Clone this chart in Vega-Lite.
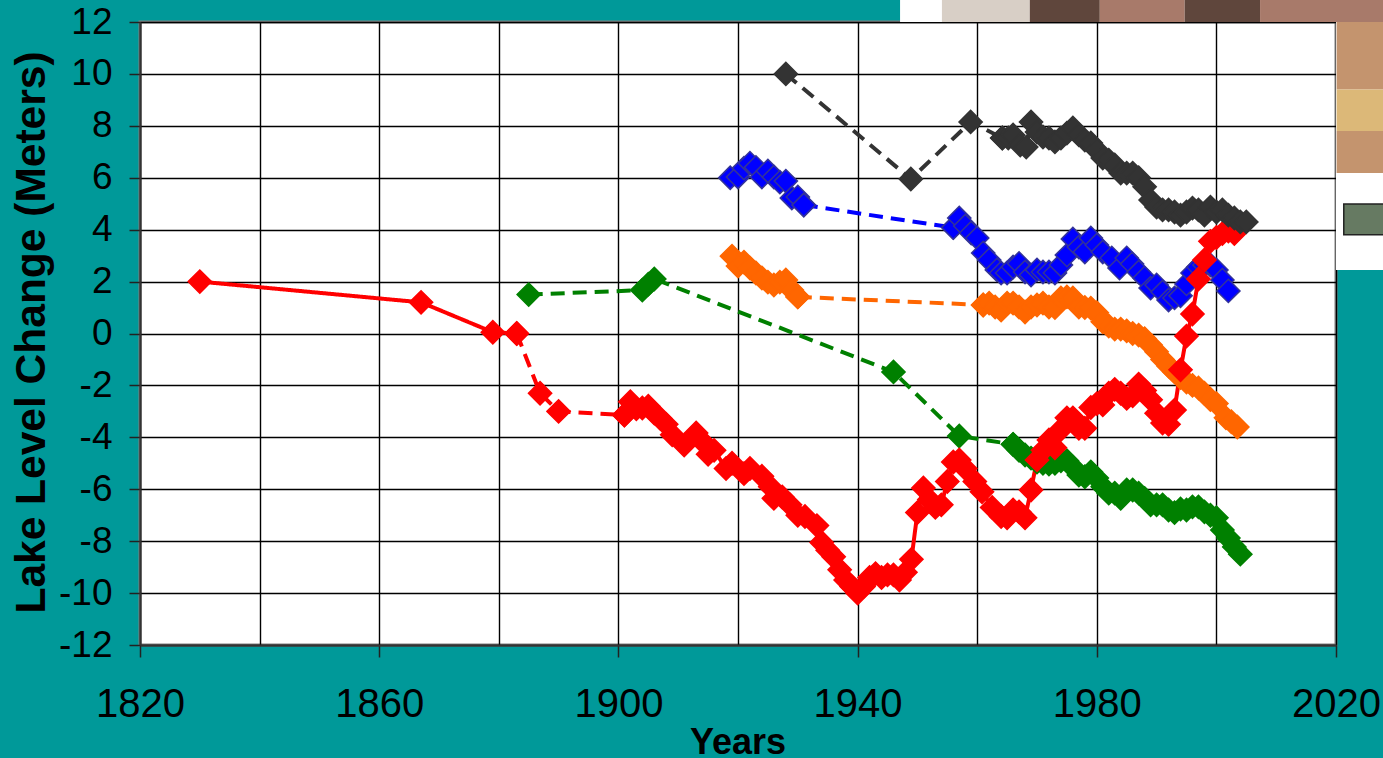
{"$schema":"https://vega.github.io/schema/vega-lite/v6.json","autosize":{"type":"none"},"width":1196,"height":623,"padding":{"left":140,"top":22,"right":47,"bottom":113},"background":"#009999","view":{"fill":"#ffffff","stroke":"#808080","strokeWidth":3},"config":{"font":"Liberation Sans"},"datasets":{"patches":[
{"part":"white","x0":1947.1,"x1":2020,"y0":12,"y1":12.9},
{"part":"white","x0":2020,"x1":2028,"y0":2.45,"y1":12.9},
{"part":"pale","x0":1954.1,"x1":1968.8,"y0":12,"y1":12.9},
{"part":"dark","x0":1968.8,"x1":1980.5,"y0":12,"y1":12.9},
{"part":"rose","x0":1980.5,"x1":1994.7,"y0":12,"y1":12.9},
{"part":"dark","x0":1994.7,"x1":2007.3,"y0":12,"y1":12.9},
{"part":"rose","x0":2007.3,"x1":2028,"y0":12,"y1":12.9},
{"part":"tan","x0":2020.1,"x1":2028,"y0":9.4,"y1":12},
{"part":"sand","x0":2020.1,"x1":2028,"y0":7.8,"y1":9.4},
{"part":"tan","x0":2020.1,"x1":2028,"y0":6.18,"y1":7.8},
{"part":"box","x0":2021.3,"x1":2028.5,"y0":3.8,"y1":4.99}
],"lake":[
{"series":"blue","run":"b1","style":"solid","year":1918.7,"level":6.0},
{"series":"blue","run":"b1","style":"solid","year":1920,"level":6.03},
{"series":"blue","run":"b1","style":"solid","year":1921,"level":6.37},
{"series":"blue","run":"b1","style":"solid","year":1922,"level":6.56},
{"series":"blue","run":"b1","style":"solid","year":1923,"level":6.4},
{"series":"blue","run":"b1","style":"solid","year":1924,"level":6.03},
{"series":"blue","run":"b1","style":"solid","year":1925,"level":6.26},
{"series":"blue","run":"b1","style":"solid","year":1926,"level":6.03},
{"series":"blue","run":"b1","style":"solid","year":1927,"level":5.83},
{"series":"blue","run":"b1","style":"solid","year":1928,"level":5.87},
{"series":"blue","run":"b1","style":"solid","year":1929,"level":5.22},
{"series":"blue","run":"b1","style":"solid","year":1930,"level":5.26},
{"series":"blue","run":"b1","style":"solid","year":1931,"level":4.95},
{"series":"blue","run":"b2","style":"dashed","year":1931,"level":4.95},
{"series":"blue","run":"b2","style":"dashed","year":1956,"level":4.08},
{"series":"blue","run":"b3","style":"solid","year":1956,"level":4.08},
{"series":"blue","run":"b3","style":"solid","year":1957,"level":4.45},
{"series":"blue","run":"b3","style":"solid","year":1958,"level":4.14},
{"series":"blue","run":"b3","style":"solid","year":1959,"level":3.87},
{"series":"blue","run":"b3","style":"solid","year":1960,"level":3.68},
{"series":"blue","run":"b3","style":"solid","year":1961,"level":3.1},
{"series":"blue","run":"b3","style":"solid","year":1962,"level":2.83},
{"series":"blue","run":"b3","style":"solid","year":1963.3,"level":2.45},
{"series":"blue","run":"b3","style":"solid","year":1964,"level":2.33},
{"series":"blue","run":"b3","style":"solid","year":1965,"level":2.33},
{"series":"blue","run":"b3","style":"solid","year":1966,"level":2.56},
{"series":"blue","run":"b3","style":"solid","year":1967,"level":2.7},
{"series":"blue","run":"b3","style":"solid","year":1968,"level":2.37},
{"series":"blue","run":"b3","style":"solid","year":1969,"level":2.25},
{"series":"blue","run":"b3","style":"solid","year":1970,"level":2.45},
{"series":"blue","run":"b3","style":"solid","year":1971,"level":2.37},
{"series":"blue","run":"b3","style":"solid","year":1972,"level":2.37},
{"series":"blue","run":"b3","style":"solid","year":1973,"level":2.33},
{"series":"blue","run":"b3","style":"solid","year":1974,"level":2.64},
{"series":"blue","run":"b3","style":"solid","year":1975,"level":3.02},
{"series":"blue","run":"b3","style":"solid","year":1976,"level":3.64},
{"series":"blue","run":"b3","style":"solid","year":1977,"level":3.33},
{"series":"blue","run":"b3","style":"solid","year":1978,"level":3.14},
{"series":"blue","run":"b3","style":"solid","year":1979,"level":3.68},
{"series":"blue","run":"b3","style":"solid","year":1980,"level":3.41},
{"series":"blue","run":"b3","style":"solid","year":1981,"level":3.14},
{"series":"blue","run":"b3","style":"solid","year":1982.5,"level":2.91},
{"series":"blue","run":"b3","style":"solid","year":1983.8,"level":2.52},
{"series":"blue","run":"b3","style":"solid","year":1985,"level":2.91},
{"series":"blue","run":"b3","style":"solid","year":1985.9,"level":2.68},
{"series":"blue","run":"b3","style":"solid","year":1987,"level":2.37},
{"series":"blue","run":"b3","style":"solid","year":1988,"level":2.14},
{"series":"blue","run":"b3","style":"solid","year":1989,"level":1.75},
{"series":"blue","run":"b3","style":"solid","year":1990,"level":1.87},
{"series":"blue","run":"b3","style":"solid","year":1991,"level":1.6},
{"series":"blue","run":"b3","style":"solid","year":1992,"level":1.29},
{"series":"blue","run":"b3","style":"solid","year":1993,"level":1.37},
{"series":"blue","run":"b3","style":"solid","year":1994,"level":1.45},
{"series":"blue","run":"b3","style":"solid","year":1995,"level":1.91},
{"series":"blue","run":"b3","style":"solid","year":1996,"level":2.33},
{"series":"blue","run":"b3","style":"solid","year":1997,"level":2.56},
{"series":"blue","run":"b3","style":"solid","year":1998,"level":2.64},
{"series":"blue","run":"b3","style":"solid","year":1999,"level":2.64},
{"series":"blue","run":"b3","style":"solid","year":2000,"level":2.45},
{"series":"blue","run":"b3","style":"solid","year":2001,"level":2.06},
{"series":"blue","run":"b3","style":"solid","year":2002,"level":1.64},
{"series":"orange","run":"o1","style":"solid","year":1919,"level":2.98},
{"series":"orange","run":"o1","style":"solid","year":1920,"level":2.6},
{"series":"orange","run":"o1","style":"solid","year":1921,"level":2.75},
{"series":"orange","run":"o1","style":"solid","year":1922,"level":2.52},
{"series":"orange","run":"o1","style":"solid","year":1923,"level":2.33},
{"series":"orange","run":"o1","style":"solid","year":1924,"level":2.14},
{"series":"orange","run":"o1","style":"solid","year":1925,"level":1.98},
{"series":"orange","run":"o1","style":"solid","year":1926,"level":1.87},
{"series":"orange","run":"o1","style":"solid","year":1927,"level":1.98},
{"series":"orange","run":"o1","style":"solid","year":1928,"level":2.06},
{"series":"orange","run":"o1","style":"solid","year":1929,"level":1.68},
{"series":"orange","run":"o1","style":"solid","year":1930,"level":1.41},
{"series":"orange","run":"o2","style":"dashed","year":1930,"level":1.41},
{"series":"orange","run":"o2","style":"dashed","year":1961,"level":1.1},
{"series":"orange","run":"o3","style":"solid","year":1961,"level":1.1},
{"series":"orange","run":"o3","style":"solid","year":1962,"level":1.17},
{"series":"orange","run":"o3","style":"solid","year":1963,"level":1.02},
{"series":"orange","run":"o3","style":"solid","year":1964,"level":0.9},
{"series":"orange","run":"o3","style":"solid","year":1965,"level":1.17},
{"series":"orange","run":"o3","style":"solid","year":1966,"level":1.17},
{"series":"orange","run":"o3","style":"solid","year":1967,"level":1.02},
{"series":"orange","run":"o3","style":"solid","year":1968,"level":0.83},
{"series":"orange","run":"o3","style":"solid","year":1969,"level":1.02},
{"series":"orange","run":"o3","style":"solid","year":1970,"level":1.1},
{"series":"orange","run":"o3","style":"solid","year":1971,"level":1.17},
{"series":"orange","run":"o3","style":"solid","year":1972,"level":1.02},
{"series":"orange","run":"o3","style":"solid","year":1973,"level":1.0},
{"series":"orange","run":"o3","style":"solid","year":1974,"level":1.37},
{"series":"orange","run":"o3","style":"solid","year":1975,"level":1.41},
{"series":"orange","run":"o3","style":"solid","year":1976,"level":1.37},
{"series":"orange","run":"o3","style":"solid","year":1977,"level":1.02},
{"series":"orange","run":"o3","style":"solid","year":1978,"level":1.0},
{"series":"orange","run":"o3","style":"solid","year":1979,"level":0.98},
{"series":"orange","run":"o3","style":"solid","year":1980,"level":0.8},
{"series":"orange","run":"o3","style":"solid","year":1981,"level":0.45},
{"series":"orange","run":"o3","style":"solid","year":1982,"level":0.29},
{"series":"orange","run":"o3","style":"solid","year":1983,"level":0.17},
{"series":"orange","run":"o3","style":"solid","year":1984,"level":0.17},
{"series":"orange","run":"o3","style":"solid","year":1985,"level":0.1},
{"series":"orange","run":"o3","style":"solid","year":1986,"level":0.0},
{"series":"orange","run":"o3","style":"solid","year":1987,"level":-0.06},
{"series":"orange","run":"o3","style":"solid","year":1988,"level":-0.2},
{"series":"orange","run":"o3","style":"solid","year":1989,"level":-0.44},
{"series":"orange","run":"o3","style":"solid","year":1990,"level":-0.7},
{"series":"orange","run":"o3","style":"solid","year":1991,"level":-1.0},
{"series":"orange","run":"o3","style":"solid","year":1992,"level":-1.25},
{"series":"orange","run":"o3","style":"solid","year":1993,"level":-1.48},
{"series":"orange","run":"o3","style":"solid","year":1994,"level":-1.7},
{"series":"orange","run":"o3","style":"solid","year":1995,"level":-1.87},
{"series":"orange","run":"o3","style":"solid","year":1996,"level":-2.0},
{"series":"orange","run":"o3","style":"solid","year":1997,"level":-2.1},
{"series":"orange","run":"o3","style":"solid","year":1998,"level":-2.3},
{"series":"orange","run":"o3","style":"solid","year":1999,"level":-2.55},
{"series":"orange","run":"o3","style":"solid","year":2000,"level":-2.7},
{"series":"orange","run":"o4","style":"solid","year":2001.6,"level":-3.25},
{"series":"orange","run":"o4","style":"solid","year":2002.5,"level":-3.4},
{"series":"orange","run":"o4","style":"solid","year":2003.5,"level":-3.6},
{"series":"green","run":"g1","style":"dashed","year":1885,"level":1.5},
{"series":"green","run":"g1","style":"dashed","year":1904,"level":1.67},
{"series":"green","run":"g1","style":"dashed","year":1905,"level":1.9},
{"series":"green","run":"g1","style":"dashed","year":1906,"level":2.1},
{"series":"green","run":"g1","style":"dashed","year":1946,"level":-1.48},
{"series":"green","run":"g1","style":"dashed","year":1957,"level":-3.95},
{"series":"green","run":"g1","style":"dashed","year":1966,"level":-4.27},
{"series":"green","run":"g2","style":"solid","year":1966,"level":-4.27},
{"series":"green","run":"g2","style":"solid","year":1967,"level":-4.5},
{"series":"green","run":"g2","style":"solid","year":1968,"level":-4.68},
{"series":"green","run":"g2","style":"solid","year":1969,"level":-4.8},
{"series":"green","run":"g2","style":"solid","year":1970,"level":-4.95},
{"series":"green","run":"g2","style":"solid","year":1971,"level":-5.0},
{"series":"green","run":"g2","style":"solid","year":1972,"level":-5.03},
{"series":"green","run":"g2","style":"solid","year":1973,"level":-5.0},
{"series":"green","run":"g2","style":"solid","year":1974,"level":-4.9},
{"series":"green","run":"g2","style":"solid","year":1975,"level":-4.9},
{"series":"green","run":"g2","style":"solid","year":1976,"level":-5.15},
{"series":"green","run":"g2","style":"solid","year":1977,"level":-5.45},
{"series":"green","run":"g2","style":"solid","year":1978,"level":-5.52},
{"series":"green","run":"g2","style":"solid","year":1979,"level":-5.33},
{"series":"green","run":"g2","style":"solid","year":1980,"level":-5.57},
{"series":"green","run":"g2","style":"solid","year":1981,"level":-5.9},
{"series":"green","run":"g2","style":"solid","year":1982,"level":-6.15},
{"series":"green","run":"g2","style":"solid","year":1983,"level":-6.15},
{"series":"green","run":"g2","style":"solid","year":1984,"level":-6.35},
{"series":"green","run":"g2","style":"solid","year":1985,"level":-6.03},
{"series":"green","run":"g2","style":"solid","year":1986,"level":-6.03},
{"series":"green","run":"g2","style":"solid","year":1987,"level":-6.15},
{"series":"green","run":"g2","style":"solid","year":1988,"level":-6.35},
{"series":"green","run":"g2","style":"solid","year":1989,"level":-6.6},
{"series":"green","run":"g2","style":"solid","year":1990,"level":-6.6},
{"series":"green","run":"g2","style":"solid","year":1991,"level":-6.6},
{"series":"green","run":"g2","style":"solid","year":1992,"level":-6.8},
{"series":"green","run":"g2","style":"solid","year":1993,"level":-6.9},
{"series":"green","run":"g2","style":"solid","year":1994,"level":-6.76},
{"series":"green","run":"g2","style":"solid","year":1995,"level":-6.8},
{"series":"green","run":"g2","style":"solid","year":1996,"level":-6.68},
{"series":"green","run":"g2","style":"solid","year":1997,"level":-6.68},
{"series":"green","run":"g2","style":"solid","year":1998,"level":-6.87},
{"series":"green","run":"g2","style":"solid","year":1999,"level":-7.0},
{"series":"green","run":"g2","style":"solid","year":2000,"level":-7.1},
{"series":"green","run":"g2","style":"solid","year":2001,"level":-7.57},
{"series":"green","run":"g2","style":"solid","year":2002,"level":-7.88},
{"series":"green","run":"g2","style":"solid","year":2003,"level":-8.22},
{"series":"green","run":"g2","style":"solid","year":2004,"level":-8.5},
{"series":"red","run":"r1","style":"solid","year":1830,"level":2.0},
{"series":"red","run":"r1","style":"solid","year":1867,"level":1.2},
{"series":"red","run":"r1","style":"solid","year":1879,"level":0.05},
{"series":"red","run":"r1","style":"solid","year":1883,"level":0.0},
{"series":"red","run":"r2","style":"dashed","year":1883,"level":0.0},
{"series":"red","run":"r2","style":"dashed","year":1886.9,"level":-2.3},
{"series":"red","run":"r2","style":"dashed","year":1890,"level":-3.0},
{"series":"red","run":"r2","style":"dashed","year":1901,"level":-3.14},
{"series":"red","run":"r3","style":"solid","year":1901,"level":-3.14},
{"series":"red","run":"r3","style":"solid","year":1902,"level":-2.63},
{"series":"red","run":"r3","style":"solid","year":1903,"level":-2.9},
{"series":"red","run":"r3","style":"solid","year":1904,"level":-2.87},
{"series":"red","run":"r3","style":"solid","year":1905,"level":-2.8},
{"series":"red","run":"r3","style":"solid","year":1906,"level":-3.07},
{"series":"red","run":"r3","style":"solid","year":1907,"level":-3.27},
{"series":"red","run":"r3","style":"solid","year":1908,"level":-3.5},
{"series":"red","run":"r3","style":"solid","year":1909,"level":-3.9},
{"series":"red","run":"r3","style":"solid","year":1911,"level":-4.3},
{"series":"red","run":"r3","style":"solid","year":1913,"level":-3.83},
{"series":"red","run":"r3","style":"solid","year":1914,"level":-4.15},
{"series":"red","run":"r3","style":"solid","year":1915,"level":-4.65},
{"series":"red","run":"r3","style":"solid","year":1916,"level":-4.5},
{"series":"red","run":"r3","style":"solid","year":1918,"level":-5.2},
{"series":"red","run":"r3","style":"solid","year":1919,"level":-5.0},
{"series":"red","run":"r3","style":"solid","year":1921,"level":-5.4},
{"series":"red","run":"r3","style":"solid","year":1922,"level":-5.2},
{"series":"red","run":"r3","style":"solid","year":1924,"level":-5.5},
{"series":"red","run":"r3","style":"solid","year":1925.4,"level":-5.9},
{"series":"red","run":"r3","style":"solid","year":1926,"level":-6.35},
{"series":"red","run":"r3","style":"solid","year":1927.4,"level":-6.3},
{"series":"red","run":"r3","style":"solid","year":1928.7,"level":-6.6},
{"series":"red","run":"r3","style":"solid","year":1930,"level":-7.0},
{"series":"red","run":"r3","style":"solid","year":1931.2,"level":-7.05},
{"series":"red","run":"r3","style":"solid","year":1933.2,"level":-7.4},
{"series":"red","run":"r3","style":"solid","year":1934,"level":-8.05},
{"series":"red","run":"r3","style":"solid","year":1935,"level":-8.35},
{"series":"red","run":"r3","style":"solid","year":1936,"level":-8.6},
{"series":"red","run":"r3","style":"solid","year":1937,"level":-9.1},
{"series":"red","run":"r3","style":"solid","year":1938,"level":-9.5},
{"series":"red","run":"r3","style":"solid","year":1939,"level":-9.75},
{"series":"red","run":"r3","style":"solid","year":1940,"level":-10.0},
{"series":"red","run":"r3","style":"solid","year":1941,"level":-9.75},
{"series":"red","run":"r3","style":"solid","year":1942,"level":-9.4},
{"series":"red","run":"r3","style":"solid","year":1943,"level":-9.25},
{"series":"red","run":"r3","style":"solid","year":1944,"level":-9.4},
{"series":"red","run":"r3","style":"solid","year":1945,"level":-9.3},
{"series":"red","run":"r3","style":"solid","year":1946,"level":-9.3},
{"series":"red","run":"r3","style":"solid","year":1947,"level":-9.5},
{"series":"red","run":"r3","style":"solid","year":1948,"level":-9.2},
{"series":"red","run":"r3","style":"solid","year":1949,"level":-8.7},
{"series":"red","run":"r3","style":"solid","year":1950,"level":-6.9},
{"series":"red","run":"r3","style":"solid","year":1951,"level":-5.95},
{"series":"red","run":"r3","style":"solid","year":1952,"level":-6.4},
{"series":"red","run":"r3","style":"solid","year":1953,"level":-6.7},
{"series":"red","run":"r3","style":"solid","year":1954,"level":-6.6},
{"series":"red","run":"r3","style":"solid","year":1955,"level":-5.7},
{"series":"red","run":"r3","style":"solid","year":1956,"level":-4.95},
{"series":"red","run":"r3","style":"solid","year":1957,"level":-4.87},
{"series":"red","run":"r3","style":"solid","year":1958,"level":-5.2},
{"series":"red","run":"r3","style":"solid","year":1959.6,"level":-5.7},
{"series":"red","run":"r3","style":"solid","year":1960.8,"level":-6.1},
{"series":"red","run":"r3","style":"solid","year":1962.5,"level":-6.7},
{"series":"red","run":"r3","style":"solid","year":1964,"level":-7.05},
{"series":"red","run":"r3","style":"solid","year":1965,"level":-7.1},
{"series":"red","run":"r3","style":"solid","year":1966,"level":-6.8},
{"series":"red","run":"r3","style":"solid","year":1967,"level":-6.87},
{"series":"red","run":"r3","style":"solid","year":1968,"level":-7.1},
{"series":"red","run":"r3","style":"solid","year":1969,"level":-6.03},
{"series":"red","run":"r3","style":"solid","year":1970,"level":-4.87},
{"series":"red","run":"r3","style":"solid","year":1971,"level":-4.5},
{"series":"red","run":"r3","style":"solid","year":1972,"level":-4.1},
{"series":"red","run":"r3","style":"solid","year":1973,"level":-4.4},
{"series":"red","run":"r3","style":"solid","year":1974,"level":-3.7},
{"series":"red","run":"r3","style":"solid","year":1975,"level":-3.25},
{"series":"red","run":"r3","style":"solid","year":1976,"level":-3.25},
{"series":"red","run":"r3","style":"solid","year":1977,"level":-3.65},
{"series":"red","run":"r3","style":"solid","year":1978,"level":-3.65},
{"series":"red","run":"r3","style":"solid","year":1979,"level":-2.85},
{"series":"red","run":"r3","style":"solid","year":1980,"level":-2.7},
{"series":"red","run":"r3","style":"solid","year":1981,"level":-2.75},
{"series":"red","run":"r3","style":"solid","year":1982,"level":-2.3},
{"series":"red","run":"r3","style":"solid","year":1983,"level":-2.15},
{"series":"red","run":"r3","style":"solid","year":1984,"level":-2.3},
{"series":"red","run":"r3","style":"solid","year":1985,"level":-2.5},
{"series":"red","run":"r3","style":"solid","year":1986,"level":-2.4},
{"series":"red","run":"r3","style":"solid","year":1987,"level":-1.95},
{"series":"red","run":"r3","style":"solid","year":1988,"level":-2.2},
{"series":"red","run":"r3","style":"solid","year":1989,"level":-2.55},
{"series":"red","run":"r3","style":"solid","year":1990,"level":-3.07},
{"series":"red","run":"r3","style":"solid","year":1991,"level":-3.45},
{"series":"red","run":"r3","style":"solid","year":1992,"level":-3.5},
{"series":"red","run":"r3","style":"solid","year":1993,"level":-2.95},
{"series":"red","run":"r3","style":"solid","year":1994,"level":-1.4},
{"series":"red","run":"r3","style":"solid","year":1995,"level":-0.1},
{"series":"red","run":"r3","style":"solid","year":1996,"level":0.75},
{"series":"red","run":"r3","style":"solid","year":1997,"level":2.1},
{"series":"red","run":"r3","style":"solid","year":1998,"level":2.83},
{"series":"red","run":"r3","style":"solid","year":1999,"level":3.55},
{"series":"red","run":"r3","style":"solid","year":2000,"level":3.7},
{"series":"red","run":"r3","style":"solid","year":2001,"level":3.85},
{"series":"red","run":"r3","style":"solid","year":2002,"level":3.95},
{"series":"red","run":"r3","style":"solid","year":2003,"level":3.85},
{"series":"black","run":"k1","style":"dashed","year":1928,"level":10.0},
{"series":"black","run":"k1","style":"dashed","year":1948.9,"level":5.95},
{"series":"black","run":"k1","style":"dashed","year":1958.9,"level":8.15},
{"series":"black","run":"k1","style":"dashed","year":1964.2,"level":7.53},
{"series":"black","run":"k2","style":"solid","year":1964.2,"level":7.53},
{"series":"black","run":"k2","style":"solid","year":1965.2,"level":7.53},
{"series":"black","run":"k2","style":"solid","year":1966,"level":7.65},
{"series":"black","run":"k2","style":"solid","year":1967.2,"level":7.26},
{"series":"black","run":"k2","style":"solid","year":1968.2,"level":7.18},
{"series":"black","run":"k2","style":"solid","year":1969,"level":8.15},
{"series":"black","run":"k2","style":"solid","year":1970,"level":7.76},
{"series":"black","run":"k2","style":"solid","year":1971,"level":7.57},
{"series":"black","run":"k2","style":"solid","year":1972,"level":7.53},
{"series":"black","run":"k2","style":"solid","year":1973,"level":7.38},
{"series":"black","run":"k2","style":"solid","year":1974,"level":7.53},
{"series":"black","run":"k2","style":"solid","year":1975,"level":7.72},
{"series":"black","run":"k2","style":"solid","year":1976,"level":7.92},
{"series":"black","run":"k2","style":"solid","year":1977,"level":7.65},
{"series":"black","run":"k2","style":"solid","year":1978,"level":7.45},
{"series":"black","run":"k2","style":"solid","year":1979,"level":7.34},
{"series":"black","run":"k2","style":"solid","year":1980,"level":7.07},
{"series":"black","run":"k2","style":"solid","year":1981,"level":6.76},
{"series":"black","run":"k2","style":"solid","year":1982,"level":6.68},
{"series":"black","run":"k2","style":"solid","year":1983,"level":6.49},
{"series":"black","run":"k2","style":"solid","year":1984,"level":6.18},
{"series":"black","run":"k2","style":"solid","year":1985,"level":6.18},
{"series":"black","run":"k2","style":"solid","year":1986,"level":6.18},
{"series":"black","run":"k2","style":"solid","year":1987,"level":6.0},
{"series":"black","run":"k2","style":"solid","year":1988,"level":5.65},
{"series":"black","run":"k2","style":"solid","year":1989,"level":5.14},
{"series":"black","run":"k2","style":"solid","year":1990,"level":4.87},
{"series":"black","run":"k2","style":"solid","year":1991,"level":4.76},
{"series":"black","run":"k2","style":"solid","year":1992,"level":4.76},
{"series":"black","run":"k2","style":"solid","year":1993,"level":4.68},
{"series":"black","run":"k2","style":"solid","year":1994,"level":4.56},
{"series":"black","run":"k2","style":"solid","year":1995,"level":4.68},
{"series":"black","run":"k2","style":"solid","year":1996,"level":4.83},
{"series":"black","run":"k2","style":"solid","year":1997,"level":4.76},
{"series":"black","run":"k2","style":"solid","year":1998,"level":4.56},
{"series":"black","run":"k2","style":"solid","year":1999,"level":4.87},
{"series":"black","run":"k2","style":"solid","year":2000,"level":4.68},
{"series":"black","run":"k2","style":"solid","year":2001,"level":4.76},
{"series":"black","run":"k2","style":"solid","year":2002,"level":4.56},
{"series":"black","run":"k2","style":"solid","year":2003,"level":4.45},
{"series":"black","run":"k2","style":"solid","year":2004,"level":4.3},
{"series":"black","run":"k2","style":"solid","year":2005,"level":4.3}
]},"layer":[
{"data":{"name":"patches"},"mark":{"type":"rect","strokeWidth":1.5},"encoding":{"x":{"field":"x0","type":"quantitative","scale":{"domain":[1820,2020],"nice":false},"axis":{"title":"Years","values":[1820,1840,1860,1880,1900,1920,1940,1960,1980,2000,2020],"format":"d","labelExpr":"datum.value % 40 == 20 ? datum.label : ''","labelFontSize":40,"labelColor":"#000000","labelPadding":27,"labelFlush":false,"labelBound":false,"labelOverlap":false,"tickSize":12,"tickColor":"#222222","tickWidth":1.5,"tickOpacity":{"condition":{"test":"datum.value % 40 == 20","value":1},"value":0},"domain":true,"domainColor":"#333333","domainWidth":2,"grid":true,"gridColor":"#000000","gridWidth":1.4,"gridOpacity":1,"titleFontSize":36,"titleFontWeight":"bold","titleColor":"#000000","titleX":597.5,"titleY":108,"titleBaseline":"alphabetic"}},"x2":{"field":"x1"},"y":{"field":"y0","type":"quantitative","scale":{"domain":[-12,12],"nice":false},"axis":{"title":"Lake Level Change (Meters)","values":[-12,-10,-8,-6,-4,-2,0,2,4,6,8,10,12],"labelExpr":"'' + datum.value","labelFontSize":37,"labelColor":"#000000","labelPadding":17,"labelOverlap":false,"labelBound":false,"labelFlush":false,"tickSize":11,"tickColor":"#222222","tickWidth":1.5,"domain":true,"domainColor":"#333333","domainWidth":2,"grid":true,"gridColor":"#000000","gridWidth":1.4,"gridOpacity":1,"titleFontSize":42.5,"titleFontWeight":"bold","titleColor":"#000000","titleX":-109,"titleY":310,"titleBaseline":"middle","titleAnchor":"middle"}},"y2":{"field":"y1"},"fill":{"field":"part","type":"nominal","legend":null,"scale":{"domain":["white","pale","dark","rose","tan","sand","box"],"range":["#ffffff","#d8cfc6","#5f463c","#a87a6a","#c4946e","#dcb878","#667a62"]}},"stroke":{"condition":{"test":"datum.part === 'box'","value":"#222222"},"value":"transparent"}}},
{"data":{"name":"lake"},"mark":{"type":"line","strokeWidth":4,"strokeCap":"butt"},"encoding":{"x":{"field":"year","type":"quantitative"},"y":{"field":"level","type":"quantitative"},"detail":{"field":"run"},"stroke":{"field":"series","type":"nominal","legend":null,"scale":{"domain":["blue","orange","green","red","black"],"range":["#0000ff","#ff6600","#008000","#ff0000","#333333"]}},"strokeDash":{"field":"style","type":"nominal","legend":null,"scale":{"domain":["solid","dashed"],"range":[[1,0],[14,8]]}}}},
{"data":{"name":"lake"},"mark":{"type":"point","shape":"diamond","filled":true,"size":540,"opacity":1,"strokeWidth":1.5},"encoding":{"x":{"field":"year","type":"quantitative"},"y":{"field":"level","type":"quantitative"},"fill":{"field":"series","type":"nominal","legend":null,"scale":{"domain":["blue","orange","green","red","black"],"range":["#0000ff","#ff6600","#008000","#ff0000","#333333"]}},"stroke":{"field":"series","type":"nominal","legend":null,"scale":{"domain":["blue","orange","green","red","black"],"range":["#333399","#ff6600","#008000","#ff0000","#333333"]}}}}
],"resolve":{"scale":{"fill":"independent","stroke":"independent"}}}
